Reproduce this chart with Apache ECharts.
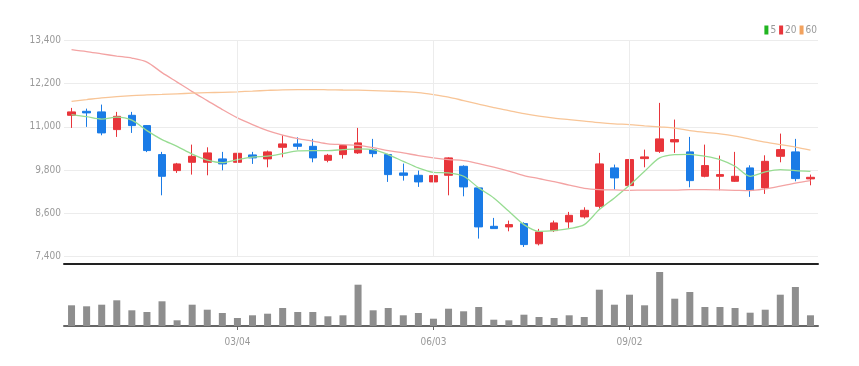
<!DOCTYPE html>
<html>
<head>
<meta charset="utf-8">
<script src="https://cdn.jsdelivr.net/npm/echarts@6/dist/echarts.min.js"></script>
<style>
html,body{margin:0;padding:0;background:#fff;}
#chart{width:859px;height:366px;}
</style>
</head>
<body>
<div id="chart"></div>
<script>
const dates = ['12/18','12/25','01/01','01/08','01/15','01/22','01/29','02/05','02/12','02/19','02/26','03/04','03/11','03/18','03/25','04/01','04/08','04/15','04/22','04/29','05/06','05/13','05/20','05/27','06/03','06/10','06/17','06/24','07/01','07/08','07/15','07/22','07/29','08/05','08/12','08/19','08/26','09/02','09/09','09/16','09/23','09/30','10/07','10/14','10/21','10/28','11/04','11/11','11/18','11/25'];
const tickLabels = ['03/04','06/03','09/02'];
const yTicks = [7400, 8600, 9800, 11000, 12200, 13400];
// [open, close, low, high]
const ohlc = [
[11322,11417,10972,11528],[11433,11389,11000,11508],[11417,10833,10767,11620],[10925,11294,10722,11417],[11322,11036,10833,11417],
[11036,10342,10300,11050],[10231,9628,9100,10306],[9786,9972,9722,10000],[10017,10183,9675,10508],[10017,10278,9656,10433],
[10111,9972,9794,10306],[10017,10267,9906,10417],[10222,10139,9972,10306],[10111,10306,9878,10342],[10433,10528,10156,10767],
[10528,10461,10369,10711],[10461,10139,10017,10667],[10072,10211,10017,10250],[10231,10481,10119,10508],[10278,10556,10250,10972],
[10369,10258,10156,10667],[10231,9675,9472,10250],[9722,9656,9508,9981],[9656,9472,9333,9786],[9472,9647,9444,9703],
[9656,10139,9100,10156],[9906,9333,9072,9933],[9306,8222,7897,9322],[8239,8175,8175,8472],[8222,8286,8100,8397],
[8314,7731,7664,8350],[7753,8083,7708,8167],[8119,8333,8083,8397],[8361,8544,8194,8639],[8500,8683,8453,8767],
[8794,9972,8731,10278],[9861,9583,9258,9953],[9369,10092,9167,10600],[10119,10167,9878,10369],[10322,10667,10278,11667],
[10583,10647,10278,11203],[10306,9508,9322,10722],[9628,9925,9600,10508],[9628,9675,9239,10203],[9489,9628,9472,10306],
[9861,9239,9056,9933],[9306,10044,9139,10211],[10183,10369,10017,10814],[10306,9564,9489,10667],[9556,9600,9378,9675]
];
const ma5 = [11342,11286,11217,11272,11189,10897,10647,10461,10244,10078,10008,10092,10161,10189,10258,10333,10342,10342,10369,10389,10369,10231,10044,9861,9736,9722,9628,9306,9028,8656,8286,8100,8119,8175,8286,8703,9028,9378,9767,10139,10231,10239,10183,10092,9906,9628,9750,9814,9786,9767];
const ma20 = [13147,13092,13028,12967,12911,12800,12508,12245,11981,11731,11481,11250,11064,10897,10772,10675,10606,10528,10508,10489,10425,10342,10278,10203,10139,10092,10064,9981,9883,9772,9647,9564,9481,9383,9294,9258,9250,9239,9244,9244,9244,9258,9258,9250,9239,9230,9278,9356,9439,9508];
const ma60 = [11711,11758,11806,11842,11870,11892,11903,11920,11936,11950,11961,11975,11994,12014,12031,12036,12036,12031,12025,12020,12008,11994,11981,11953,11897,11828,11731,11633,11536,11453,11369,11300,11244,11203,11161,11119,11086,11064,11031,11000,10967,10897,10850,10806,10744,10661,10578,10508,10439,10356];
const volume = [207000,197000,213000,257000,157000,140000,247000,57000,213000,163000,130000,80000,107000,123000,180000,140000,140000,97000,107000,413000,157000,180000,107000,130000,73000,173000,147000,190000,63000,57000,113000,90000,80000,107000,90000,363000,213000,313000,207000,540000,273000,340000,190000,190000,180000,133000,163000,313000,390000,107000];
const maNames = ['5','20','60'];

const labelFont = "'DejaVu Sans Condensed','Liberation Sans Narrow','Liberation Sans',sans-serif";
const isTick = (idx, val) => tickLabels.indexOf(val) >= 0;

const chart = echarts.init(document.getElementById('chart'), null, {renderer:'canvas'});
chart.setOption({
  animation: false,
  backgroundColor: '#fff',
  legend: {
    data: maNames,
    right: 37, top: 20,
    icon: 'rect', itemWidth: 4, itemHeight: 9, itemGap: 3,
    textStyle: {color: '#999', fontSize: 10, fontFamily: labelFont, padding: [0,0,0,-3]},
    selectedMode: false
  },
  grid: [
    {left: 64, right: 41, top: 40.5, height: 216},
    {left: 64, right: 41, top: 264, height: 62}
  ],
  xAxis: [
    {type: 'category', gridIndex: 0, data: dates, boundaryGap: true, offset: 7,
     axisLine: {lineStyle: {color: '#222', width: 2}}, axisTick: {show: false}, axisLabel: {show: false}, splitLine: {show: false}},
    {type: 'category', gridIndex: 1, data: dates, boundaryGap: true,
     axisLine: {lineStyle: {color: '#666', width: 2}},
     axisTick: {show: true, alignWithLabel: true, interval: isTick, length: 4, lineStyle: {color: '#666'}},
     axisLabel: {interval: isTick, color: '#999', fontSize: 10, fontFamily: labelFont, margin: 11},
     splitLine: {show: false}}
  ],
  yAxis: [
    {type: 'value', gridIndex: 0, min: yTicks[0], max: yTicks[yTicks.length-1], interval: yTicks[1]-yTicks[0],
     axisLine: {show: false}, axisTick: {show: false},
     axisLabel: {color: '#999', fontSize: 10, fontFamily: labelFont, margin: 3, formatter: v => v.toLocaleString('en-US')},
     splitLine: {lineStyle: {color: '#ececec', width: 1}}},
    {type: 'value', gridIndex: 1, min: 0, max: 620000, show: false, splitLine: {show: false}}
  ],
  series: [
    {type: 'line', name: 'grid', xAxisIndex: 0, yAxisIndex: 0, data: [], z: 0, silent: true,
     markLine: {silent: true, symbol: 'none', label: {show: false},
       lineStyle: {color: '#ececec', width: 1, type: 'solid'},
       data: tickLabels.map(v => ({xAxis: v}))}},
    {type: 'candlestick', name: 'price', xAxisIndex: 0, yAxisIndex: 0, data: ohlc, barWidth: 8, z: 2,
     itemStyle: {color: '#e8353b', color0: '#1a7be6', borderColor: '#e8353b', borderColor0: '#1a7be6', borderWidth: 1}},
    {type: 'line', name: maNames[0], data: ma5, showSymbol: false, smooth: 0.3, z: 3,
     itemStyle: {color: '#21b521'}, lineStyle: {color: '#97dc92', width: 1.3}},
    {type: 'line', name: maNames[1], data: ma20, showSymbol: false, smooth: 0.3, z: 3,
     itemStyle: {color: '#e8353b'}, lineStyle: {color: '#f3a3a3', width: 1.3}},
    {type: 'line', name: maNames[2], data: ma60, showSymbol: false, smooth: 0.3, z: 3,
     itemStyle: {color: '#f2a25e'}, lineStyle: {color: '#f8c597', width: 1.3}},
    {type: 'bar', name: 'vol', xAxisIndex: 1, yAxisIndex: 1, data: volume, barWidth: 7,
     itemStyle: {color: '#8e8e8e'}}
  ]
});
</script>
</body>
</html>
